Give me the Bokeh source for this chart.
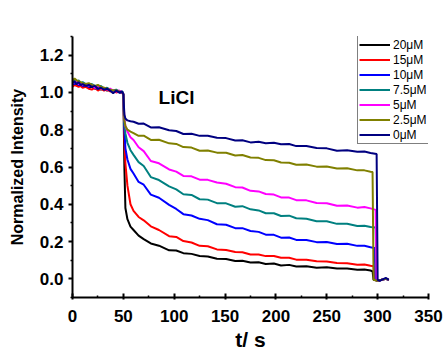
from bokeh.plotting import figure
from bokeh.models import Legend, LegendItem, Label, FixedTicker, PrintfTickFormatter
from bokeh.embed import file_html
from bokeh.resources import INLINE

# ---- data ----
labels = ["20\u03bcM", "15\u03bcM", "10\u03bcM", "7.5\u03bcM", "5\u03bcM", "2.5\u03bcM", "0\u03bcM"]
colors = ["#000000", "#FF0000", "#0000FF", "#008080", "#FF00FF", "#808000", "#000080"]

t_pre = [0, 2, 4, 6, 8, 10, 13, 16, 19, 22, 25, 28, 31, 34, 37, 40, 43, 46, 49]
t_post = [50, 51, 52, 54, 57, 60, 65, 70, 77, 85, 95, 102, 109, 117, 125, 133, 142, 151,
          160, 167, 175, 183, 190, 198, 205, 213, 220, 230, 240, 250, 260, 270, 280, 287, 293]

pre_black = [1.04, 1.045, 1.04, 1.035, 1.04, 1.03, 1.035, 1.025, 1.03, 1.02, 1.025, 1.015, 1.02, 1.01, 1.015, 1.005, 1.01, 1.0, 1.0]
pre_red = [1.03, 1.04, 1.035, 1.03, 1.035, 1.025, 1.03, 1.02, 1.015, 1.025, 1.01, 1.02, 1.01, 1.015, 1.005, 1.01, 1.0, 1.005, 0.995]
pre_blue = [1.05, 1.045, 1.055, 1.04, 1.045, 1.035, 1.04, 1.03, 1.035, 1.025, 1.02, 1.03, 1.015, 1.02, 1.01, 1.005, 1.01, 1.0, 1.0]
pre_teal = [1.06, 1.07, 1.055, 1.065, 1.05, 1.055, 1.045, 1.04, 1.045, 1.035, 1.03, 1.035, 1.02, 1.025, 1.015, 1.01, 1.015, 1.005, 1.005]
pre_magenta = [1.05, 1.055, 1.06, 1.045, 1.05, 1.04, 1.045, 1.035, 1.04, 1.025, 1.03, 1.02, 1.025, 1.015, 1.02, 1.01, 1.005, 1.01, 1.0]
pre_olive = [1.06, 1.075, 1.065, 1.06, 1.055, 1.05, 1.045, 1.05, 1.04, 1.035, 1.04, 1.03, 1.025, 1.02, 1.015, 1.01, 1.01, 1.005, 1.0]
pre_navy = [1.05, 1.06, 1.045, 1.055, 1.04, 1.045, 1.035, 1.04, 1.03, 1.035, 1.02, 1.025, 1.015, 1.02, 1.01, 0.995, 1.01, 1.0, 1.005]

post_black = [0.99, 0.60, 0.38, 0.32, 0.28, 0.262, 0.232, 0.213, 0.19, 0.178, 0.153, 0.152, 0.138, 0.134, 0.123, 0.12, 0.108, 0.107,
              0.096, 0.097, 0.088, 0.089, 0.08, 0.082, 0.072, 0.075, 0.066, 0.068, 0.06, 0.062, 0.055, 0.056, 0.049, 0.05, 0.045]
post_red = [0.99, 0.75, 0.62, 0.50, 0.40, 0.365, 0.332, 0.314, 0.282, 0.262, 0.229, 0.225, 0.203, 0.195, 0.177, 0.175, 0.158, 0.155,
            0.144, 0.143, 0.131, 0.131, 0.122, 0.123, 0.113, 0.113, 0.103, 0.103, 0.094, 0.093, 0.085, 0.084, 0.076, 0.077, 0.07]
post_blue = [0.99, 0.80, 0.70, 0.64, 0.59, 0.565, 0.52, 0.505, 0.452, 0.435, 0.397, 0.375, 0.347, 0.34, 0.322, 0.315, 0.293, 0.29,
             0.272, 0.272, 0.257, 0.252, 0.237, 0.236, 0.221, 0.222, 0.209, 0.208, 0.197, 0.198, 0.187, 0.188, 0.177, 0.178, 0.17]
post_teal = [0.99, 0.83, 0.78, 0.73, 0.69, 0.665, 0.626, 0.605, 0.546, 0.53, 0.496, 0.48, 0.454, 0.45, 0.427, 0.425, 0.406, 0.405,
             0.387, 0.39, 0.373, 0.367, 0.352, 0.352, 0.337, 0.339, 0.325, 0.322, 0.309, 0.309, 0.295, 0.296, 0.284, 0.285, 0.278]
post_magenta = [0.99, 0.86, 0.82, 0.79, 0.76, 0.745, 0.706, 0.685, 0.632, 0.62, 0.587, 0.575, 0.552, 0.55, 0.532, 0.531, 0.517, 0.51,
                0.492, 0.49, 0.472, 0.469, 0.455, 0.452, 0.437, 0.436, 0.422, 0.421, 0.407, 0.406, 0.392, 0.393, 0.382, 0.385, 0.378]
post_olive = [0.99, 0.85, 0.82, 0.80, 0.79, 0.782, 0.767, 0.768, 0.745, 0.746, 0.727, 0.724, 0.707, 0.704, 0.687, 0.689, 0.677, 0.676,
              0.662, 0.664, 0.651, 0.649, 0.637, 0.636, 0.624, 0.623, 0.612, 0.613, 0.602, 0.603, 0.592, 0.593, 0.582, 0.582, 0.575]
post_navy = [0.99, 0.88, 0.86, 0.85, 0.845, 0.843, 0.832, 0.833, 0.812, 0.813, 0.797, 0.793, 0.777, 0.778, 0.767, 0.768, 0.757, 0.755,
             0.742, 0.743, 0.732, 0.735, 0.727, 0.73, 0.722, 0.723, 0.712, 0.713, 0.702, 0.7, 0.687, 0.69, 0.682, 0.683, 0.675]

end_t_black = [295, 296, 300, 304, 308, 311]
end_v_black = [0.04, -0.005, -0.01, -0.005, 0.0, -0.005]
end_t_red = [296, 297, 300, 304, 308, 311]
end_v_red = [0.068, -0.005, -0.01, -0.005, 0.0, -0.005]
end_t_blue = [297, 298, 300, 304, 308, 311]
end_v_blue = [0.165, -0.005, -0.01, -0.005, 0.0, -0.005]
end_t_teal = [298, 299, 301, 304, 308, 311]
end_v_teal = [0.275, -0.005, -0.01, -0.005, 0.0, -0.005]
end_t_magenta = [298, 299, 301, 304, 308, 311]
end_v_magenta = [0.37, -0.005, -0.01, -0.005, 0.0, -0.005]
end_t_olive = [295, 296, 300, 304, 308, 311]
end_v_olive = [0.573, -0.005, -0.01, -0.005, 0.0, -0.005]
end_t_navy = [299, 300, 302, 304, 308, 311]
end_v_navy = [0.67, -0.005, -0.01, -0.005, 0.005, -0.005]

x_ticks = [0, 50, 100, 150, 200, 250, 300, 350]
x_minor = [25, 75, 125, 175, 225, 275, 325]
y_ticks = [0.0, 0.2, 0.4, 0.6, 0.8, 1.0, 1.2]
y_minor = [-0.1, 0.1, 0.3, 0.5, 0.7, 0.9, 1.1, 1.3]

series = [
    (pre_black, post_black, end_t_black, end_v_black),
    (pre_red, post_red, end_t_red, end_v_red),
    (pre_blue, post_blue, end_t_blue, end_v_blue),
    (pre_teal, post_teal, end_t_teal, end_v_teal),
    (pre_magenta, post_magenta, end_t_magenta, end_v_magenta),
    (pre_olive, post_olive, end_t_olive, end_v_olive),
    (pre_navy, post_navy, end_t_navy, end_v_navy),
]

FONT = "Liberation Sans"

p = figure(width=444, height=362, x_range=(0, 350), y_range=(-0.1, 1.3),
           output_backend="svg", toolbar_location=None,
           min_border_left=72, min_border_right=16, min_border_top=36, min_border_bottom=65)
p.outline_line_color = None
p.xgrid.visible = False
p.ygrid.visible = False
p.background_fill_color = "white"
p.border_fill_color = "white"

items = []
for (pre, post, et, ev), lab, col in zip(series, labels, colors):
    xs = t_pre + t_post + et
    ys = pre + post + ev
    r = p.line(xs, ys, line_color=col, line_width=2)
    items.append(LegendItem(label=lab, renderers=[r]))

# axes
for ax in (p.xaxis[0], p.yaxis[0]):
    ax.axis_line_width = 2
    ax.axis_line_color = "black"
    ax.major_tick_line_width = 2
    ax.minor_tick_line_width = 1.5
    ax.major_label_text_font = FONT
    ax.major_label_text_font_style = "bold"
    ax.major_label_text_font_size = "17px"
    ax.major_label_text_color = "black"
    ax.axis_label_text_font = FONT
    ax.axis_label_text_font_style = "bold"
    ax.axis_label_text_color = "black"

p.xaxis.ticker = FixedTicker(ticks=x_ticks, minor_ticks=x_minor)
p.yaxis.ticker = FixedTicker(ticks=y_ticks, minor_ticks=y_minor)
p.yaxis.formatter = PrintfTickFormatter(format="%.1f")

p.xaxis.major_tick_in = 4
p.xaxis.major_tick_out = 2
p.xaxis.minor_tick_in = 2
p.xaxis.minor_tick_out = 0
p.xaxis.major_label_standoff = 10
p.xaxis.axis_label = "t/ s"
p.xaxis.axis_label_text_font_size = "21px"
p.xaxis.axis_label_standoff = 3

p.yaxis.major_tick_in = 0
p.yaxis.major_tick_out = 4
p.yaxis.minor_tick_in = 0
p.yaxis.minor_tick_out = 2
p.yaxis.major_label_standoff = 5
p.yaxis.axis_label = "Normalized Intensity"
p.yaxis.axis_label_text_font_size = "16px"
p.yaxis.axis_label_standoff = 11

p.add_layout(Label(x=84.6, y=0.975, text="LiCl", text_font=FONT, text_font_style="bold",
                   text_font_size="19px", text_color="black", text_baseline="alphabetic"))

legend = Legend(items=items, location=(285, 153), label_text_font=FONT,
                label_text_font_size="12px", label_text_color="black",
                glyph_width=31, glyph_height=15, label_height=15, label_standoff=3,
                spacing=0, padding=1, margin=0,
                border_line_color="black", border_line_width=1,
                background_fill_color="white", background_fill_alpha=1.0)
p.add_layout(legend)

open("out.html", "w").write(file_html(p, INLINE))
